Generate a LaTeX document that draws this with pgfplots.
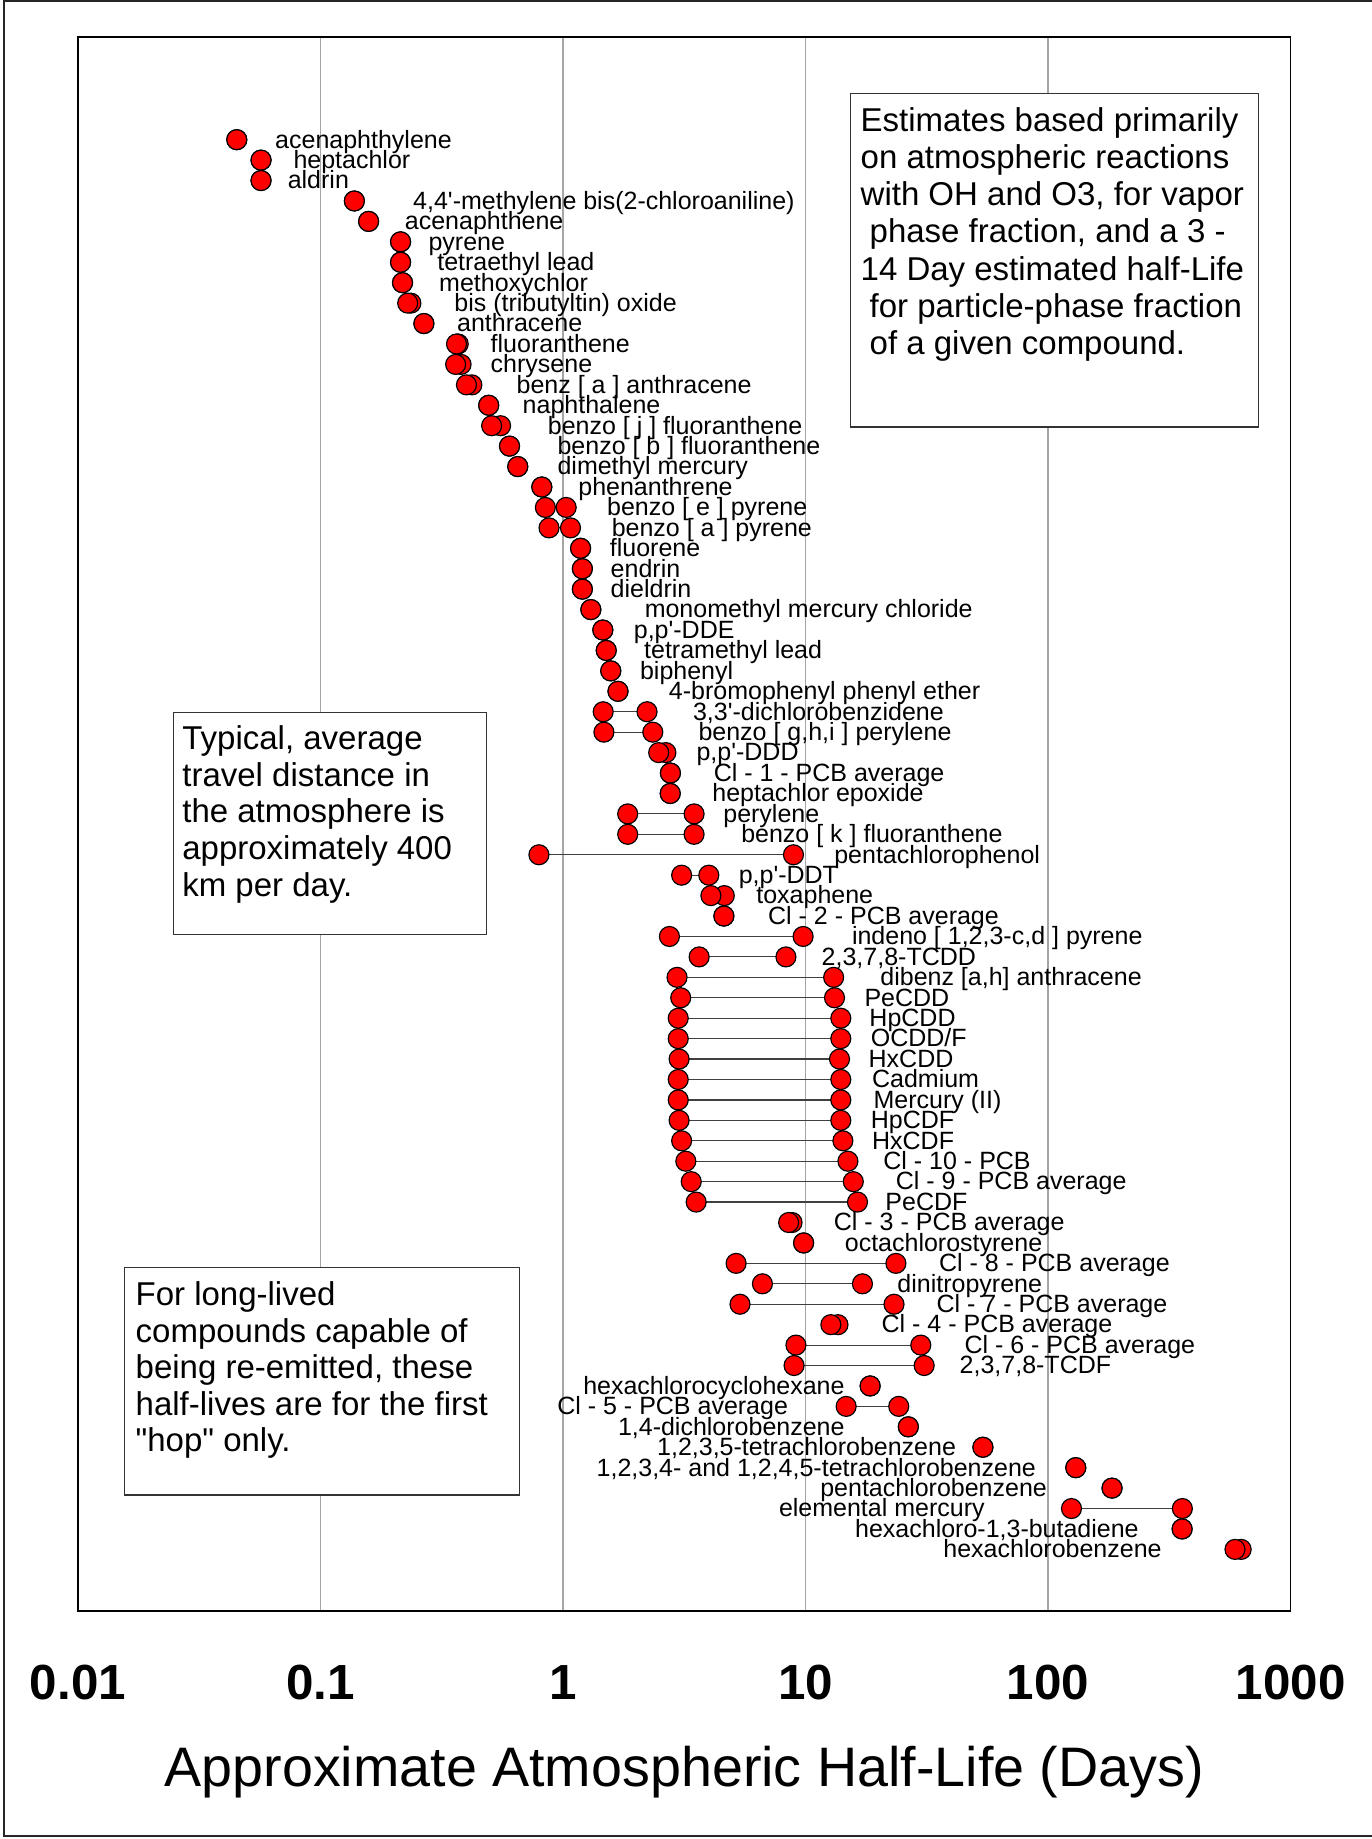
\documentclass[border=0pt]{standalone}
\usepackage{fontspec}
\setmainfont{Liberation Sans}
\usepackage{pgfplots}
\usepackage{pgfplotstable}
\pgfplotsset{compat=1.18}

% row (negative, counted from the top), shortest and longest half-life in days
\pgfplotstableread{
row lo hi
-1 0.0452 0.0452
-2 0.0569 0.0569
-3 0.0569 0.0569
-4 0.138 0.138
-5 0.158 0.158
-6 0.214 0.214
-7 0.214 0.214
-8 0.218 0.218
-9 0.229 0.236
-10 0.267 0.267
-11 0.364 0.370
-12 0.361 0.380
-13 0.400 0.421
-14 0.494 0.494
-15 0.508 0.553
-16 0.602 0.602
-17 0.651 0.651
-18 0.818 0.818
-19 0.846 1.031
-20 0.876 1.074
-21 1.182 1.182
-22 1.202 1.202
-23 1.202 1.202
-24 1.303 1.303
-25 1.460 1.460
-26 1.508 1.508
-27 1.574 1.574
-28 1.686 1.686
-29 1.465 2.221
-30 1.475 2.346
-31 2.481 2.657
-32 2.773 2.773
-33 2.768 2.768
-34 1.849 3.472
-35 1.849 3.472
-36 0.796 8.92
-37 3.085 3.993
-38 4.073 4.626
-39 4.607 4.607
-40 2.747 9.775
-41 3.643 8.303
-42 2.953 13.06
-43 3.058 13.17
-44 2.987 13.98
-45 2.987 13.98
-46 3.012 13.81
-47 2.987 13.98
-48 2.987 13.98
-49 3.012 13.98
-50 3.085 14.26
-51 3.210 14.96
-52 3.379 15.74
-53 3.541 16.38
-54 8.52 8.80
-55 9.82 9.82
-56 5.173 23.59
-57 6.642 17.17
-58 5.369 23.17
-59 12.72 13.61
-60 9.13 29.87
-61 8.97 30.85
-62 18.47 18.47
-63 14.71 24.23
-64 26.54 26.54
-65 53.88 53.88
-66 130.1 130.1
-67 183.6 183.6
-68 124.9 357.9
-69 357.1 357.1
-70 589.9 625.5
}\halflife

\definecolor{gridgray}{RGB}{165,165,165}

\begin{document}
\begin{tikzpicture}[x=1pt,y=1pt,
  lab/.style={anchor=base west, inner sep=0pt, yshift=-2.5pt, font=\fontsize{7.5}{9}\selectfont},
  labl/.style={lab, anchor=base east},
  boxtxt/.style={anchor=base west, inner sep=0pt, font=\fontsize{9.9}{11.2}\selectfont},
  note/.style={draw=black!80, fill=white, line width=0.45pt}]
\useasboundingbox (-23.37,-68.4) rectangle (388.23,483.3);
\draw[line width=0.7pt, black!85] (395,482.9) -- (-22.2,482.9) -- (-22.2,-67.5) -- (395,-67.5);

\begin{axis}[
  at={(0,0)}, anchor=south west,
  scale only axis, width=363.81pt, height=472.11pt,
  xmode=log, xmin=0.01, xmax=1000,
  ymin=-73.015, ymax=4.012,
  xtick={0.01,0.1,1,10,100,1000},
  xticklabels={0.01,0.1,1,10,100,1000},
  xminorticks=false, ytick=\empty,
  major tick length=0pt, minor tick length=0pt,
  xmajorgrids, major grid style={gridgray, line width=0.5pt},
  axis line style={line width=0.5pt},
  xticklabel style={font=\bfseries\fontsize{14.8}{16}\selectfont, anchor=base, yshift=-26.4pt},
  xlabel={Approximate Atmospheric Half-Life (Days)},
  xlabel style={font=\fontsize{16.7}{19}\selectfont, at={(axis description cs:0.5,0)}, anchor=base, yshift=-52.7pt},
  clip=false,
]
\addplot[only marks, mark=*, mark size=3pt, mark options={fill=red, draw=black, line width=0.35pt}]
  table[x=hi, y=row] {\halflife};
\addplot[black!75, line width=0.35pt, unbounded coords=jump] coordinates {
  (0.846,-19) (1.031,-19) (1,inf)
  (0.876,-20) (1.074,-20) (1,inf)
  (1.465,-29) (2.221,-29) (1,inf)
  (1.475,-30) (2.346,-30) (1,inf)
  (1.849,-34) (3.472,-34) (1,inf)
  (1.849,-35) (3.472,-35) (1,inf)
  (0.796,-36) (8.92,-36) (1,inf)
  (3.085,-37) (3.993,-37) (1,inf)
  (2.747,-40) (9.775,-40) (1,inf)
  (3.643,-41) (8.303,-41) (1,inf)
  (2.953,-42) (13.06,-42) (1,inf)
  (3.058,-43) (13.17,-43) (1,inf)
  (2.987,-44) (13.98,-44) (1,inf)
  (2.987,-45) (13.98,-45) (1,inf)
  (3.012,-46) (13.81,-46) (1,inf)
  (2.987,-47) (13.98,-47) (1,inf)
  (2.987,-48) (13.98,-48) (1,inf)
  (3.012,-49) (13.98,-49) (1,inf)
  (3.085,-50) (14.26,-50) (1,inf)
  (3.210,-51) (14.96,-51) (1,inf)
  (3.379,-52) (15.74,-52) (1,inf)
  (3.541,-53) (16.38,-53) (1,inf)
  (5.173,-56) (23.59,-56) (1,inf)
  (6.642,-57) (17.17,-57) (1,inf)
  (5.369,-58) (23.17,-58) (1,inf)
  (9.13,-60) (29.87,-60) (1,inf)
  (8.97,-61) (30.85,-61) (1,inf)
  (14.71,-63) (24.23,-63) (1,inf)
  (124.9,-68) (357.9,-68)
};
\addplot[only marks, mark=*, mark size=3pt, mark options={fill=red, draw=black, line width=0.35pt}]
  table[x=lo, y=row] {\halflife};

\node[lab] at (axis cs:0.0647,-1) {acenaphthylene};
\node[lab] at (axis cs:0.0770,-2) {heptachlor};
\node[lab] at (axis cs:0.0729,-3) {aldrin};
\node[lab] at (axis cs:0.2398,-4) {4,4\textquotesingle-methylene bis(2-chloroaniline)};
\node[lab] at (axis cs:0.2216,-5) {acenaphthene};
\node[lab] at (axis cs:0.2773,-6) {pyrene};
\node[lab] at (axis cs:0.3014,-7) {tetraethyl lead};
\node[lab] at (axis cs:0.3069,-8) {methoxychlor};
\node[lab] at (axis cs:0.3546,-9) {bis (tributyltin) oxide};
\node[lab] at (axis cs:0.3638,-10) {anthracene};
\node[lab] at (axis cs:0.5005,-11) {fluoranthene};
\node[lab] at (axis cs:0.5005,-12) {chrysene};
\node[lab] at (axis cs:0.6401,-13) {benz [ a ] anthracene};
\node[lab] at (axis cs:0.6782,-14) {naphthalene};
\node[lab] at (axis cs:0.8609,-15) {benzo [ j ] fluoranthene};
\node[lab] at (axis cs:0.9438,-16) {benzo [ b ] fluoranthene};
\node[lab] at (axis cs:0.9438,-17) {dimethyl mercury};
\node[lab] at (axis cs:1.150,-18) {phenanthrene};
\node[lab] at (axis cs:1.511,-19) {benzo [ e ] pyrene};
\node[lab] at (axis cs:1.579,-20) {benzo [ a ] pyrene};
\node[lab] at (axis cs:1.552,-21) {fluorene};
\node[lab] at (axis cs:1.564,-22) {endrin};
\node[lab] at (axis cs:1.564,-23) {dieldrin};
\node[lab] at (axis cs:2.160,-24) {monomethyl mercury chloride};
\node[lab] at (axis cs:1.948,-25) {p,p\textquotesingle-DDE};
\node[lab] at (axis cs:2.148,-26) {tetramethyl lead};
\node[lab] at (axis cs:2.066,-27) {biphenyl};
\node[lab] at (axis cs:2.718,-28) {4-bromophenyl phenyl ether};
\node[lab] at (axis cs:3.417,-29) {3,3\textquotesingle-dichlorobenzidene};
\node[lab] at (axis cs:3.599,-30) {benzo [ g,h,i ] perylene};
\node[lab] at (axis cs:3.532,-31) {p,p\textquotesingle-DDD};
\node[lab] at (axis cs:4.159,-32) {Cl - 1 - PCB average};
\node[lab] at (axis cs:4.104,-33) {heptachlor epoxide};
\node[lab] at (axis cs:4.555,-34) {perylene};
\node[lab] at (axis cs:5.400,-35) {benzo [ k ] fluoranthene};
\node[lab] at (axis cs:13.06,-36) {pentachlorophenol};
\node[lab] at (axis cs:5.273,-37) {p,p\textquotesingle-DDT};
\node[lab] at (axis cs:6.232,-38) {toxaphene};
\node[lab] at (axis cs:6.972,-39) {Cl - 2 - PCB average};
\node[lab] at (axis cs:15.45,-40) {indeno [ 1,2,3-c,d ] pyrene};
\node[lab] at (axis cs:11.59,-41) {2,3,7,8-TCDD};
\node[lab] at (axis cs:20.23,-42) {dibenz [a,h] anthracene};
\node[lab] at (axis cs:17.40,-43) {PeCDD};
\node[lab] at (axis cs:18.24,-44) {HpCDD};
\node[lab] at (axis cs:18.47,-45) {OCDD/F};
\node[lab] at (axis cs:18.10,-46) {HxCDD};
\node[lab] at (axis cs:18.70,-47) {Cadmium};
\node[lab] at (axis cs:18.98,-48) {Mercury (II)};
\node[lab] at (axis cs:18.47,-49) {HpCDF};
\node[lab] at (axis cs:18.70,-50) {HxCDF};
\node[lab] at (axis cs:20.82,-51) {Cl - 10 - PCB};
\node[lab] at (axis cs:23.43,-52) {Cl - 9 - PCB average};
\node[lab] at (axis cs:21.23,-53) {PeCDF};
\node[lab] at (axis cs:13.01,-54) {Cl - 3 - PCB average};
\node[lab] at (axis cs:14.44,-55) {octachlorostyrene};
\node[lab] at (axis cs:35.32,-56) {Cl - 8 - PCB average};
\node[lab] at (axis cs:23.79,-57) {dinitropyrene};
\node[lab] at (axis cs:34.52,-58) {Cl - 7 - PCB average};
\node[lab] at (axis cs:20.48,-59) {Cl - 4 - PCB average};
\node[lab] at (axis cs:44.97,-60) {Cl - 6 - PCB average};
\node[lab] at (axis cs:42.95,-61) {2,3,7,8-TCDF};
\node[labl] at (axis cs:14.58,-62) {hexachlorocyclohexane};
\node[labl] at (axis cs:8.52,-63) {Cl - 5 - PCB average};
\node[labl] at (axis cs:14.58,-64) {1,4-dichlorobenzene};
\node[labl] at (axis cs:41.99,-65) {1,2,3,5-tetrachlorobenzene};
\node[labl] at (axis cs:89.66,-66) {1,2,3,4- and 1,2,4,5-tetrachlorobenzene};
\node[labl] at (axis cs:99.52,-67) {pentachlorobenzene};
\node[labl] at (axis cs:55.12,-68) {elemental mercury};
\node[labl] at (axis cs:237.9,-69) {hexachloro-1,3-butadiene};
\node[labl] at (axis cs:295.8,-70) {hexachlorobenzene};
\end{axis}

% note boxes
\draw[note] (231.84,355.2) rectangle (354.12,455.19);
\node[boxtxt] at (234.63,443.91) {Estimates based primarily};
\node[boxtxt] at (234.63,432.75) {on atmospheric reactions};
\node[boxtxt] at (234.63,421.59) {with OH and O3, for vapor};
\node[boxtxt] at (237.33,410.43) {phase fraction, and a 3 -};
\node[boxtxt] at (234.63,399.27) {14 Day estimated half-Life};
\node[boxtxt] at (237.33,388.11) {for particle-phase fraction};
\node[boxtxt] at (237.33,376.95) {of a given compound.};

\draw[note] (28.62,203.01) rectangle (122.64,269.49);
\node[boxtxt] at (31.14,258.51) {Typical, average};
\node[boxtxt] at (31.14,247.47) {travel distance in};
\node[boxtxt] at (31.14,236.43) {the atmosphere is};
\node[boxtxt] at (31.14,225.39) {approximately 400};
\node[boxtxt] at (31.14,214.35) {km per day.};

\draw[note] (13.92,34.8) rectangle (132.42,102.99);
\node[boxtxt] at (17.13,91.5) {For long-lived};
\node[boxtxt] at (17.13,80.55) {compounds capable of};
\node[boxtxt] at (17.13,69.6) {being re-emitted, these};
\node[boxtxt] at (17.13,58.65) {half-lives are for the first};
\node[boxtxt] at (17.13,47.7) {\textquotedbl hop\textquotedbl\ only.};
\end{tikzpicture}
\end{document}
